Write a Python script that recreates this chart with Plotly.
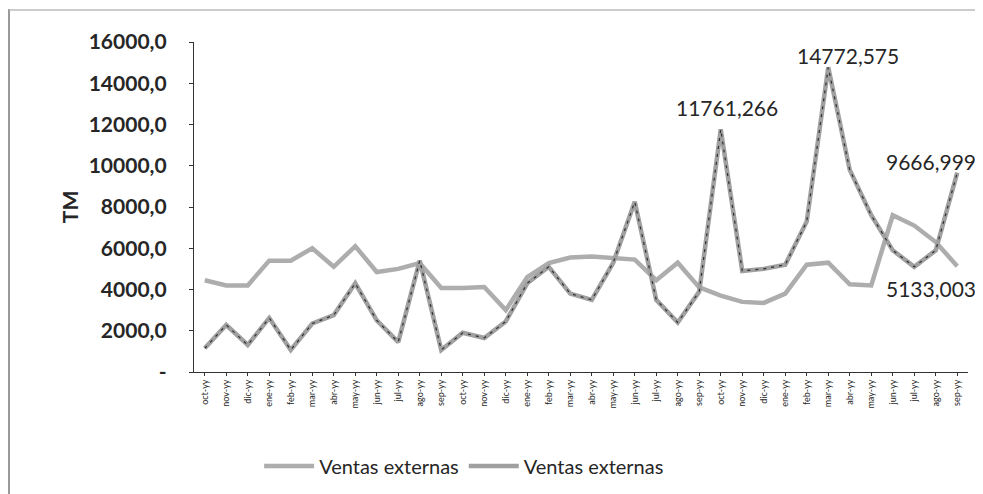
import plotly.graph_objects as go

months = ["oct-yy", "nov-yy", "dic-yy", "ene-yy", "feb-yy", "mar-yy", "abr-yy", "may-yy",
          "jun-yy", "jul-yy", "ago-yy", "sep-yy"]
tick_labels = months * 3
x_pos = list(range(len(tick_labels)))

serie_a_name = "Ventas externas"
serie_a = [4450, 4200, 4200, 5400, 5400, 6000, 5100, 6100, 4850, 5000, 5280, 4070,
           4070, 4120, 3000, 4600, 5280, 5550, 5600, 5500, 5450, 4450, 5300, 4100,
           3700, 3400, 3350, 3800, 5200, 5300, 4250, 4200, 7600, 7100, 6300, 5133.003]

serie_b_name = "Ventas externas"
serie_b = [1150, 2280, 1310, 2620, 1070, 2350, 2760, 4300, 2500, 1450, 5400, 1070,
           1900, 1650, 2450, 4300, 5100, 3800, 3500, 5300, 8250, 3500, 2400, 3900,
           11761.266, 4900, 5000, 5200, 7300, 14772.575, 9800, 7600, 5900, 5100, 5900, 9666.999]

y_ticks = [0, 2000, 4000, 6000, 8000, 10000, 12000, 14000, 16000]
y_tick_text = ["-", "2000,0", "4000,0", "6000,0", "8000,0", "10000,0", "12000,0", "14000,0", "16000,0"]

# data labels: (series, index, text, xshift, yshift)
labels = [
    (serie_b, 24, "11761,266", 6, 22),
    (serie_b, 29, "14772,575", 20, 12),
    (serie_b, 35, "9666,999", -26, 11),
    (serie_a, 35, "5133,003", -26, -22),
]

FONT = "Lato"
TXT = "#262626"

fig = go.Figure()
fig.add_trace(go.Scatter(x=x_pos, y=serie_a, mode="lines", name=serie_a_name,
                         line=dict(color="#adadad", width=4.5)))
fig.add_trace(go.Scatter(x=x_pos, y=serie_b, mode="lines", name=serie_b_name,
                         legendgroup="b",
                         line=dict(color="#a0a0a0", width=4.5)))
fig.add_trace(go.Scatter(x=x_pos, y=serie_b, mode="lines", showlegend=False,
                         legendgroup="b", hoverinfo="skip",
                         line=dict(color="#303030", width=1.2, dash="3px,5px")))

for series, idx, txt, dx, dy in labels:
    fig.add_annotation(x=x_pos[idx], y=series[idx], text=txt, showarrow=False,
                       xshift=dx, yshift=dy, font=dict(family=FONT, size=21, color=TXT))

fig.add_annotation(xref="paper", yref="paper", x=-0.18, y=0.5, text="<b>TM</b>",
                   textangle=-90, showarrow=False, font=dict(family=FONT, size=21, color=TXT))

# scanned frame edges
fig.add_shape(type="line", xref="paper", yref="paper", x0=-0.239, x1=-0.239, y0=1.1, y1=-0.4,
              line=dict(color="#555", width=1.2))
fig.add_shape(type="line", xref="paper", yref="paper", x0=-0.239, x1=1.03, y0=1.097, y1=1.097,
              line=dict(color="#bbb", width=1.5))

fig.update_layout(
    width=983, height=494,
    margin=dict(l=186, r=23, t=34, b=130),
    paper_bgcolor="white", plot_bgcolor="white",
    font=dict(family=FONT, color=TXT),
    showlegend=True,
    legend=dict(orientation="h", x=0.349, y=-0.285, xanchor="center", yanchor="middle",
                font=dict(family=FONT, size=20, color=TXT), itemwidth=50,
                bgcolor="rgba(0,0,0,0)"),
)
fig.update_xaxes(range=[-0.5, 35.5], tickmode="array", tickvals=x_pos, ticktext=tick_labels,
                 tickangle=-90, tickfont=dict(family=FONT, size=9, color=TXT),
                 showgrid=False, zeroline=False, showline=True, linecolor="#333", linewidth=1,
                 ticks="outside", ticklen=3, tickcolor="#333")
fig.update_yaxes(range=[0, 16000], tickmode="array", tickvals=y_ticks, ticktext=y_tick_text,
                 tickfont=dict(family=FONT, size=21, color=TXT, weight="bold"),
                 showgrid=False, zeroline=False, showline=True, linecolor="#333", linewidth=1.2,
                 ticks="outside", ticklen=4, tickcolor="#333", ticklabelstandoff=18)

fig.write_html("out.html")
